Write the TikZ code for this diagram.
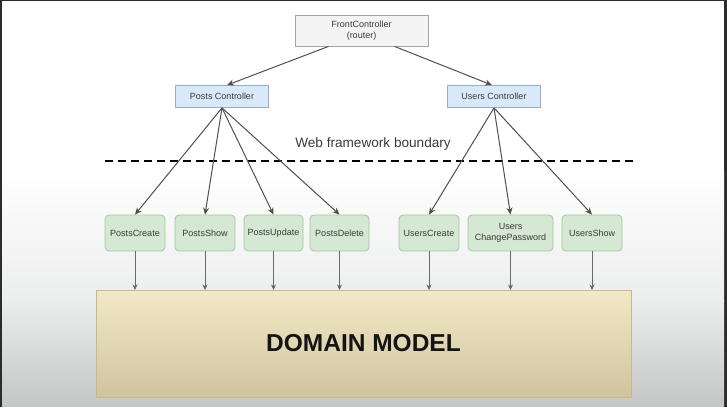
\documentclass[tikz,border=0pt]{standalone}
\usepackage{fontspec}
\setmainfont{Liberation Sans}
\usetikzlibrary{arrows.meta,calc}
\definecolor{frame}{HTML}{2B2B30}
\definecolor{bggray}{HTML}{C4C5C5}
\definecolor{bgmid}{HTML}{ECEDED}
\definecolor{txt}{HTML}{3A3A3A}
\definecolor{wire}{HTML}{505050}
\definecolor{frontfill}{HTML}{F4F4F4}
\definecolor{frontdraw}{HTML}{A4A4A4}
\definecolor{ctrlfill}{HTML}{DAE8FC}
\definecolor{ctrldraw}{HTML}{94AED2}
\definecolor{actfill}{HTML}{D5E8D4}
\definecolor{actdraw}{HTML}{A3C89E}
\definecolor{domtop}{HTML}{F3E9C6}
\definecolor{dombot}{HTML}{CFC49E}
\definecolor{domdraw}{HTML}{C6B98E}
\tikzset{
  frontbox/.style={draw=frontdraw, fill=frontfill, line width=0.8pt, minimum width=133pt, minimum height=31pt, inner sep=0pt, align=center, text=txt, font=\fontsize{9}{10.5}\selectfont},
  ctrlbox/.style={draw=ctrldraw, fill=ctrlfill, line width=0.8pt, minimum width=93pt, minimum height=22pt, inner sep=0pt, text=txt, font=\fontsize{9}{10.5}\selectfont},
  actbox/.style={draw=actdraw, fill=actfill, line width=0.8pt, rounded corners=4pt, minimum width=60pt, minimum height=36pt, inner sep=0pt, align=center, text=txt, font=\fontsize{9}{10.5}\selectfont},
  wirearrow/.style={draw=wire, line width=1pt, -{Stealth[length=7pt,width=6pt,fill=black]}},
  downarrow/.style={draw=wire!85, line width=1pt, -{Stealth[length=5.5pt,width=5pt,fill=black]}},
  boundary/.style={line width=2.6pt, dash pattern=on 8pt off 5pt, black},
}
\begin{document}
\begin{tikzpicture}[x=1pt,y=-1pt]
  \useasboundingbox (0,0) rectangle (727,407);
  % background
  \fill[frame] (0,0) rectangle (727,407);
  \fill[white] (2,1) rectangle (724,171);
  \shade[top color=white, bottom color=bgmid] (2,170) rectangle (724,301);
  \shade[top color=bgmid, bottom color=bggray] (2,300) rectangle (724,406);
  % domain model
  \shade[top color=domtop, bottom color=dombot] (96,290) rectangle (631,397);
  \draw[domdraw, line width=0.8pt] (96,290) rectangle (631,397);
  \node[font=\fontsize{24.5}{28}\selectfont\bfseries, text=black!92] (dom) at (363.5,343) {DOMAIN MODEL};
  \coordinate (domtopc) at (363.5,290);
  % top nodes
  \node[frontbox] (front) at (361.5,30.5) {FrontController\\(router)};
  \node[ctrlbox] (posts) at (222,96.5) {Posts Controller};
  \node[ctrlbox] (users) at (494,96.5) {Users Controller};
  % boundary
  \node[font=\fontsize{13.6}{15}\selectfont, text=txt] (bnd) at (373,143.5) {Web framework boundary};
  \coordinate (bl) at (105,161);
  \coordinate (br) at (633,161);
  \draw[boundary] (bl) -- (br);
  % actions
  \node[actbox] (pc) at (135,233) {PostsCreate};
  \node[actbox] (ps) at (205,233) {PostsShow};
  \node[actbox, minimum width=59pt] (pu) at (273.5,233) {PostsUpdate};
  \node[actbox, minimum width=59pt] (pd) at (339.5,233) {PostsDelete};
  \node[actbox] (uc) at (429,233) {UsersCreate};
  \node[actbox, minimum width=85pt] (ucp) at (510.5,233) {Users\\ChangePassword};
  \node[actbox] (us) at (592,233) {UsersShow};
  % front to controllers
  \draw[wirearrow] ($(front.south)+(-33,0)$) -- ($(posts.north)+(5,0)$);
  \draw[wirearrow] ($(front.south)+(33,0)$) -- ($(users.north)+(-2,0)$);
  % controllers to actions
  \foreach \n in {pc,ps,pu,pd} \draw[wirearrow] (posts.south) -- (\n.north);
  \foreach \n in {uc,ucp,us} \draw[wirearrow] (users.south) -- (\n.north);
  % actions to domain
  \foreach \n in {pc,ps,pu,pd,uc,ucp,us} \draw[downarrow] (\n.south) -- (\n.south |- domtopc);
\end{tikzpicture}
\end{document}
